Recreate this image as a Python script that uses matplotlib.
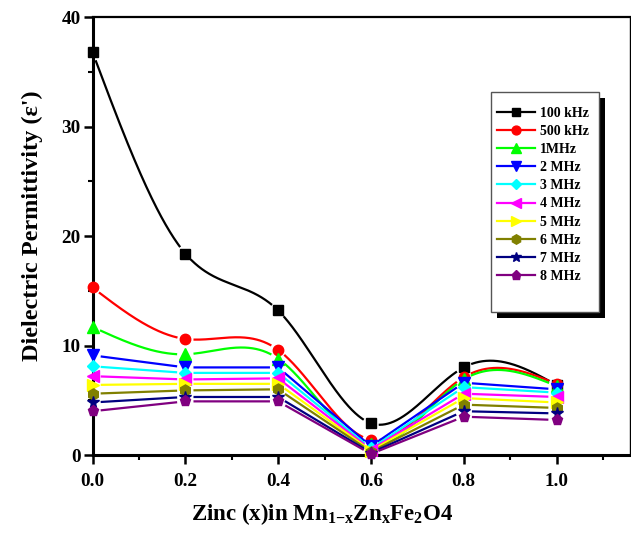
import numpy as np
import matplotlib
matplotlib.use("Agg")
import matplotlib.pyplot as plt
from matplotlib.patches import Rectangle
from matplotlib.ticker import MultipleLocator, FormatStrFormatter

plt.rcParams['font.family'] = ['Liberation Serif', 'DejaVu Serif']
plt.rcParams['font.weight'] = 'bold'
plt.rcParams['mathtext.fontset'] = 'custom'
plt.rcParams['mathtext.rm'] = 'Liberation Serif:bold'
plt.rcParams['mathtext.it'] = 'Liberation Serif:bold'
plt.rcParams['mathtext.bf'] = 'Liberation Serif:bold'

# Zinc content x in Mn(1-x)Zn(x)Fe2O4
zinc_x = [0.0, 0.2, 0.4, 0.6, 0.8, 1.0]

labels = ['100 kHz', '500 kHz', '1MHz', '2 MHz', '3 MHz',
          '4 MHz', '5 MHz', '6 MHz', '7 MHz', '8 MHz']

eps_100k = [36.8, 18.4, 13.2, 2.9, 8.0, 6.4]
eps_500k = [15.3, 10.6, 9.6, 1.4, 7.1, 6.5]
eps_1M = [11.7, 9.2, 8.8, 1.0, 6.9, 6.3]
eps_2M = [9.1, 8.0, 8.0, 0.8, 6.6, 6.0]
eps_3M = [8.1, 7.5, 7.5, 0.6, 6.2, 5.7]
eps_4M = [7.2, 6.9, 7.0, 0.5, 5.6, 5.3]
eps_5M = [6.4, 6.5, 6.5, 0.4, 5.2, 4.8]
eps_6M = [5.6, 5.9, 6.0, 0.3, 4.6, 4.3]
eps_7M = [4.8, 5.3, 5.3, 0.2, 4.0, 3.8]
eps_8M = [4.0, 4.9, 4.9, 0.1, 3.5, 3.2]

series = [eps_100k, eps_500k, eps_1M, eps_2M, eps_3M,
          eps_4M, eps_5M, eps_6M, eps_7M, eps_8M]
colors = ['#000000', '#ff0000', '#00ff00', '#0000ff', '#00ffff',
          '#ff00ff', '#ffff00', '#808000', '#000080', '#800080']
markers = ['s', 'o', '^', 'v', 'D', '<', '>', 'h', '*', 'p']
msizes = [6.5, 7.5, 8, 8, 6.5, 8, 8, 8, 8.5, 8]
smooth = [True, True, True, False, False, False, False, False, False, False]


def natural_spline(x, y, xs):
    x = np.asarray(x, float)
    y = np.asarray(y, float)
    n = len(x)
    h = np.diff(x)
    A = np.zeros((n, n))
    r = np.zeros(n)
    A[0, 0] = A[-1, -1] = 1.0
    for i in range(1, n - 1):
        A[i, i - 1] = h[i - 1]
        A[i, i] = 2 * (h[i - 1] + h[i])
        A[i, i + 1] = h[i]
        r[i] = 3 * ((y[i + 1] - y[i]) / h[i] - (y[i] - y[i - 1]) / h[i - 1])
    c = np.linalg.solve(A, r)
    b = (y[1:] - y[:-1]) / h - h * (2 * c[:-1] + c[1:]) / 3
    d = (c[1:] - c[:-1]) / (3 * h)
    idx = np.clip(np.searchsorted(x, xs, side='right') - 1, 0, n - 2)
    t = xs - x[idx]
    return y[idx] + b[idx] * t + c[idx] * t ** 2 + d[idx] * t ** 3


fig = plt.figure(figsize=(6.31, 5.33), dpi=100)
ax = fig.add_axes([0.1466, 0.1463, 0.8516, 0.8218])
ax.set_xlim(0, 1.158)
ax.set_ylim(0, 40)

xs = np.linspace(0, 1.0, 1201)
gap_px = 9.0
handles = []
for vals, col, mk, ms, sm, lab in zip(series, colors, markers, msizes, smooth, labels):
    ys = natural_spline(zinc_x, vals, xs) if sm else np.interp(xs, zinc_x, vals)
    # leave a small gap in the curve around each symbol
    curve_px = ax.transData.transform(np.column_stack([xs, ys]))
    pts_px = ax.transData.transform(np.column_stack([zinc_x, vals]))
    dist = np.min(np.hypot(curve_px[:, None, 0] - pts_px[None, :, 0],
                           curve_px[:, None, 1] - pts_px[None, :, 1]), axis=1)
    ym = np.where(dist < gap_px, np.nan, ys)
    ax.plot(xs, ym, color=col, lw=1.6, zorder=2, clip_on=False)
    ax.plot(zinc_x, vals, linestyle='none', marker=mk, ms=ms, color=col,
            markeredgecolor=col, zorder=3, clip_on=False)
    handles.append(plt.Line2D([], [], color=col, lw=1.6, marker=mk, ms=ms * 0.85,
                              markeredgecolor=col, label=lab))

# axes styling
for side in ['left', 'bottom']:
    ax.spines[side].set_linewidth(2.2)
ax.spines['top'].set_linewidth(1.6)
ax.spines['right'].set_linewidth(1.0)
ax.xaxis.set_major_locator(MultipleLocator(0.2))
ax.xaxis.set_minor_locator(MultipleLocator(0.1))
ax.yaxis.set_major_locator(MultipleLocator(10))
ax.yaxis.set_minor_locator(MultipleLocator(5))
ax.xaxis.set_major_formatter(FormatStrFormatter('%.1f'))
ax.set_xticks([0.0, 0.2, 0.4, 0.6, 0.8, 1.0])
ax.tick_params(which='major', direction='out', length=6.5, width=1.8,
               labelsize=13.8, top=False, right=False)
ax.tick_params(axis='x', which='major', pad=6.5)
ax.tick_params(axis='y', which='major', pad=2)
ax.tick_params(which='minor', direction='out', length=3.5, width=1.5,
               top=False, right=False)
for lbl in ax.get_xticklabels() + ax.get_yticklabels():
    lbl.set_fontweight('bold')

ax.set_xlabel(r'Zinc (x)in Mn$_{1\mathrm{-}x}$Zn$_{x}$Fe$_{2}$O4',
              fontsize=16.5, fontweight='bold')
ax.xaxis.set_label_coords(0.428, -0.106)
ax.set_ylabel("Dielectric Permittivity (\u03b5')", fontsize=17.5, fontweight='bold')
ax.yaxis.set_label_coords(-0.092, 0.523)

# legend frame with a solid drop shadow
ax.add_patch(Rectangle((0.752, 0.313), 0.201, 0.502, transform=ax.transAxes,
                       facecolor='black', edgecolor='none', zorder=5, clip_on=False))
ax.add_patch(Rectangle((0.741, 0.326), 0.201, 0.503, transform=ax.transAxes,
                       facecolor='white', edgecolor='#555555', lw=1.0, zorder=6,
                       clip_on=False))
leg = ax.legend(handles=handles, loc='upper left', bbox_to_anchor=(0.752, 0.795),
                frameon=False, prop={'weight': 'bold', 'size': 10},
                handlelength=2.8, handletextpad=0.3, labelspacing=0.37,
                borderpad=0, borderaxespad=0)
leg.set_zorder(7)

fig.savefig('out.png', dpi=100, facecolor='white')
